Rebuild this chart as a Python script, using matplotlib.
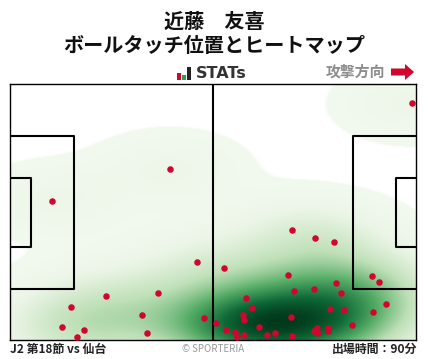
import numpy as np
import matplotlib
matplotlib.use('Agg')
import matplotlib.pyplot as plt
from matplotlib.colors import LinearSegmentedColormap
from matplotlib.patches import Rectangle, FancyArrow

plt.rcParams['font.family'] = ['Noto Sans CJK JP', 'DejaVu Sans']

player = '近藤\u3000友喜'
subtitle = 'ボールタッチ位置とヒートマップ'
match_label = 'J2 第18節 vs 仙台'
minutes_label = '出場時間：90分'
credit = '© SPORTERIA'

# touches (pitch is 10..416 by 84..340)
touch_x = [52.3, 170.3, 412.3, 197.3, 158.3, 106.3, 71.3, 142.3, 204.3, 62.3, 84.3,
           147.3, 77.3, 292.3, 315.3, 334.3, 224.3, 288.3, 372.3, 379.3, 336.3,
           314.3, 294.3, 341.3, 246.3, 386.3, 252.3, 330.3, 344.3, 373.3, 243.3,
           291.3, 244.3, 215.7, 352.3, 259.3, 226.3, 317.3, 328.3, 314.3, 328.3,
           235.3, 318.3, 275.3, 267.3, 244.3, 292.3, 237.3]
touch_y = [201.3, 169.3, 103.3, 262.3, 293.3, 296.3, 307.3, 315.3, 318.3, 327.3, 330.3,
           333.3, 337.3, 230.3, 238.3, 242.3, 268.3, 275.3, 276.3, 282.3, 283.3,
           289.3, 291.3, 293.3, 298.3, 304.3, 308.3, 309.3, 310.3, 312.3, 315.3,
           317.3, 320.3, 323.3, 325.3, 327.3, 330.3, 328.3, 328.3, 331.3, 331.3,
           332.3, 333.3, 333.3, 335.3, 335.3, 336.3, 337.3]

heat_colors = [(0.0, '#ffffff'), (0.0115, '#ffffff'), (0.012, '#f2f9ef'), (0.1, '#ebf5e6'),
               (0.3, '#bfe0b8'), (0.55, '#55ac66'), (0.8, '#0f6a38'), (1.0, '#00391c')]


def main():
    fig = plt.figure(figsize=(4.28, 3.59), dpi=100)
    W, H = 428.0, 359.0
    ax = fig.add_axes([10 / W, 1 - 340 / H, 406 / W, 256 / H])

    # heat from the touches
    xs = np.linspace(10, 416, 407)
    ys = np.linspace(84, 340, 257)
    gx, gy = np.meshgrid(xs, ys)
    dens = np.zeros_like(gx)
    for x, y in zip(touch_x, touch_y):
        dens += np.exp(-((gx - x) ** 2 / (2 * 48.0 ** 2) + (gy - y) ** 2 / (2 * 24.0 ** 2)))
    dens = dens / dens.max()
    cmap = LinearSegmentedColormap.from_list('heat', heat_colors, N=1024)
    ax.imshow(dens, extent=(10, 416, 340, 84), cmap=cmap, vmin=0, vmax=1,
              aspect='auto', interpolation='bilinear', zorder=1)

    # pitch lines
    lw = 1.5
    ax.plot([213, 213], [84, 340], color='black', lw=lw, zorder=2)
    ax.plot([10, 74, 74, 10], [136, 136, 289, 289], color='black', lw=lw, zorder=2)
    ax.plot([10, 31, 31, 10], [178, 178, 247, 247], color='black', lw=lw, zorder=2)
    ax.plot([416, 353, 353, 416], [136, 136, 289, 289], color='black', lw=lw, zorder=2)
    ax.plot([416, 396, 396, 416], [178, 178, 247, 247], color='black', lw=lw, zorder=2)

    ax.scatter(touch_x, touch_y, s=22, color='#d0062f', linewidths=0, zorder=3)

    ax.set_xlim(10, 416)
    ax.set_ylim(340, 84)
    ax.set_xticks([])
    ax.set_yticks([])
    for s in ax.spines.values():
        s.set_linewidth(1.0)

    # titles
    fig.text(214 / W, 1 - 21 / H, player, ha='center', va='center', fontsize=14.5,
             fontweight='bold', color='#111111')
    fig.text(214 / W, 1 - 46 / H, subtitle, ha='center', va='center', fontsize=14.5,
             fontweight='bold', color='#111111')

    # STATs logo
    for left, top, w, col in [(177, 73, 3.5, '#d0062f'), (182, 74.5, 3.5, '#2e9e4f'), (187, 67, 3.5, '#222222')]:
        fig.add_artist(Rectangle((left / W, 1 - 79.5 / H), w / W, (79.5 - top) / H,
                                 transform=fig.transFigure, color=col, lw=0))
    fig.text(196 / W, 1 - 74 / H, 'STATs', ha='left', va='center', fontsize=11.5,
             fontweight='bold', color='#333333', family='DejaVu Sans')

    # attack direction
    fig.text(385 / W, 1 - 72 / H, '攻撃方向', ha='right', va='center', fontsize=10.7,
             fontweight='bold', color='#8c8c8c')
    fig.add_artist(FancyArrow(391 / W, 1 - 72 / H, 23 / W, 0, width=7 / H, head_width=16 / H,
                              head_length=9 / W, length_includes_head=True,
                              transform=fig.transFigure, color='#d0062f', lw=0))

    # footer
    fig.text(10 / W, 1 - 350 / H, match_label, ha='left', va='center', fontsize=8.6,
             fontweight='bold', color='#222222')
    fig.text(213 / W, 1 - 348.5 / H, credit, ha='center', va='center', fontsize=7,
             color='#999999')
    fig.text(417 / W, 1 - 349.5 / H, minutes_label, ha='right', va='center', fontsize=8.6,
             fontweight='bold', color='#222222')

    fig.savefig('out.png', dpi=100)
    plt.close(fig)


if __name__ == '__main__':
    main()
